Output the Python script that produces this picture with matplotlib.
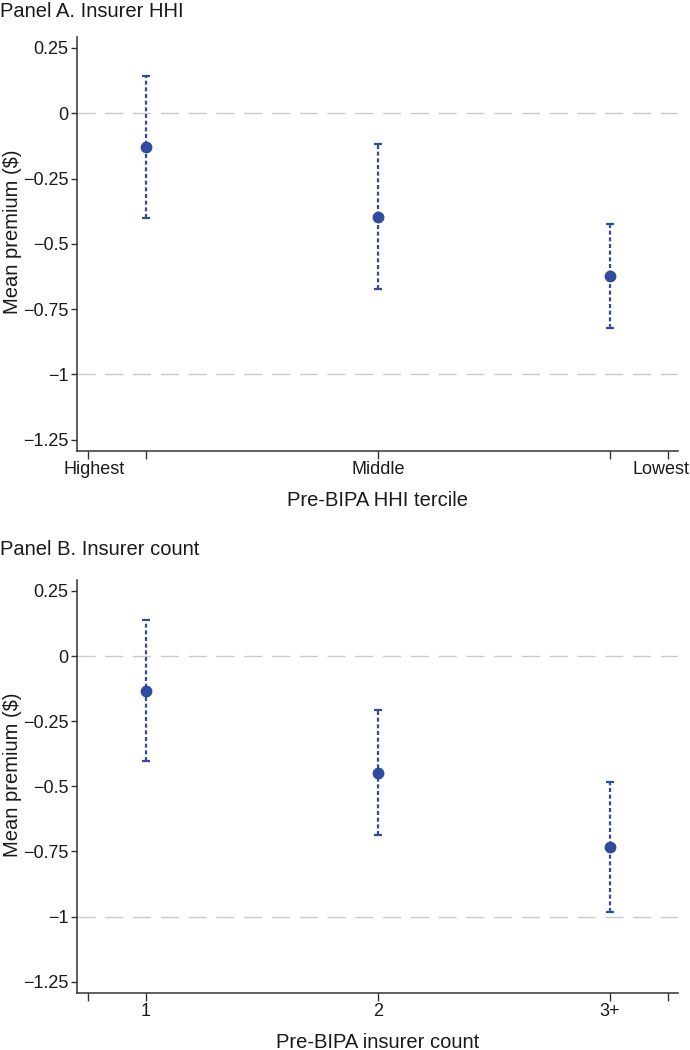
import numpy as np
import matplotlib
matplotlib.use("Agg")
import matplotlib.pyplot as plt
from matplotlib.transforms import ScaledTranslation

plt.rcParams['font.family'] = ['Liberation Sans', 'DejaVu Sans']

# Panel A: by pre-BIPA HHI tercile
hhi_est = [-0.130, -0.397, -0.623]
hhi_lo = [-0.402, -0.674, -0.824]
hhi_hi = [0.143, -0.119, -0.425]
hhi_ticklabels = ['Highest', '', 'Middle', '', 'Lowest']

# Panel B: by pre-BIPA insurer count
cnt_est = [-0.133, -0.449, -0.734]
cnt_lo = [-0.403, -0.686, -0.984]
cnt_hi = [0.137, -0.208, -0.483]
cnt_ticklabels = ['', '1', '2', '3+', '']

yticks = [0.25, 0, -0.25, -0.5, -0.75, -1, -1.25]
yticklabels = ['0.25', '0', '\u22120.25', '\u22120.5', '\u22120.75', '\u22121', '\u22121.25']

blue = '#2f4b9d'
grey_ref = '#c9c9c9'
axis_col = '#333333'
txt_col = '#1a1a1a'

fig = plt.figure(figsize=(6.9, 10.5), dpi=100)
axA = fig.add_axes([0.1123, 0.5708, 0.8703, 0.394])
axB = fig.add_axes([0.1123, 0.0546, 0.8703, 0.393])


def draw(ax, est, lo, hi, ticklabels, xlabel):
    x = np.arange(1, len(est) + 1)
    est = np.array(est)
    yerr = [est - np.array(lo), np.array(hi) - est]
    for ref in (0, -1):
        ax.axhline(ref, color=grey_ref, lw=1.0, dashes=(13, 7), zorder=1)
    _, caps, bars = ax.errorbar(x, est, yerr=yerr, fmt='o', color=blue, ms=7.5,
                                elinewidth=1.6, capsize=3.2, capthick=1.6, zorder=3)
    bars[0].set_linestyle((0, (1.8, 1.2)))
    ax.set_xlim(0.705, 3.293)
    ax.set_ylim(-1.292, 0.292)
    ax.set_xticks([0.75, 1, 2, 3, 3.25])
    ax.set_xticklabels(ticklabels)
    ax.set_yticks(yticks)
    ax.set_yticklabels(yticklabels)
    for s in ('top', 'right'):
        ax.spines[s].set_visible(False)
    for s in ('left', 'bottom'):
        ax.spines[s].set_color(axis_col)
        ax.spines[s].set_linewidth(1.1)
    ax.tick_params(axis='both', colors=axis_col, labelcolor=txt_col,
                   labelsize=13, width=1.0)
    ax.tick_params(axis='y', length=4.5, pad=2)
    ax.tick_params(axis='x', length=5.5, pad=2)
    ax.set_xlabel(xlabel, fontsize=14.5, color=txt_col, labelpad=9)
    ax.set_ylabel('Mean premium ($)', fontsize=14.5, color=txt_col)
    ax.yaxis.set_label_coords(-0.093, 0.528)


draw(axA, hhi_est, hhi_lo, hhi_hi, hhi_ticklabels, 'Pre-BIPA HHI tercile')
draw(axB, cnt_est, cnt_lo, cnt_hi, cnt_ticklabels, 'Pre-BIPA insurer count')

# end labels of panel A sit slightly inside their ticks
labs = axA.get_xticklabels()
labs[0].set_transform(labs[0].get_transform() + ScaledTranslation(6 / 100, 0, fig.dpi_scale_trans))
labs[-1].set_transform(labs[-1].get_transform() + ScaledTranslation(-7 / 100, 0, fig.dpi_scale_trans))

fig.text(0.0, 0.9985, 'Panel A. Insurer HHI', fontsize=14.5, va='top', ha='left', color=txt_col)
fig.text(0.0, 0.4855, 'Panel B. Insurer count', fontsize=14.5, va='top', ha='left', color=txt_col)

fig.savefig('out.png', dpi=100)
